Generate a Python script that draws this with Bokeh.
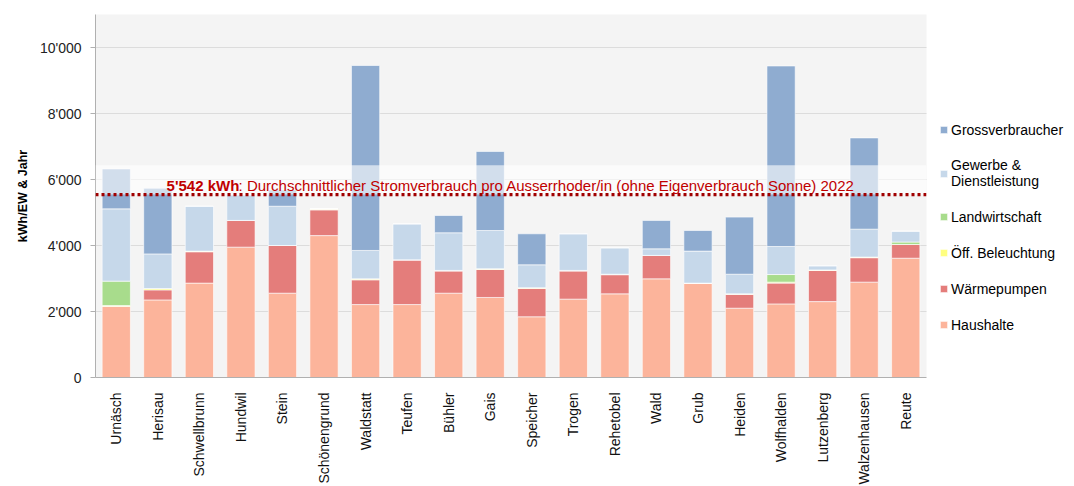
import math
from bokeh.plotting import figure
from bokeh.models import (ColumnDataSource, Range1d, FixedTicker, BoxAnnotation,
                          Span, Label, Legend, LegendItem)
from bokeh.embed import file_html
from bokeh.resources import INLINE

towns = ["Urnäsch", "Herisau", "Schwellbrunn", "Hundwil", "Stein", "Schönengrund",
         "Waldstatt", "Teufen", "Bühler", "Gais", "Speicher", "Trogen", "Rehetobel",
         "Wald", "Grub", "Heiden", "Wolfhalden", "Lutzenberg", "Walzenhausen", "Reute"]

haushalte = [2160, 2350, 2860, 3950, 2555, 4300, 2210, 2210, 2555, 2425,
             1840, 2375, 2535, 2990, 2860, 2100, 2230, 2300, 2890, 3615]
waermepumpen = [0, 305, 950, 810, 1445, 780, 750, 1355, 670, 850,
                860, 850, 580, 710, 0, 420, 630, 945, 740, 415]
beleuchtung = [20, 40, 20, 0, 0, 30, 30, 0, 20, 20,
               20, 20, 15, 0, 0, 15, 30, 15, 20, 0]
landwirtschaft = [740, 0, 0, 0, 0, 0, 0, 0, 0, 0,
                  0, 0, 0, 0, 0, 0, 230, 0, 0, 75]
gewerbe = [2190, 1050, 1360, 775, 1190, 0, 860, 1090, 1140, 1160,
           695, 1110, 800, 200, 970, 595, 850, 125, 845, 330]
gross = [1210, 1990, 0, 0, 495, 0, 5605, 0, 525, 2395,
         940, 0, 0, 860, 625, 1730, 5470, 0, 2765, 0]

series_keys = ["haushalte", "waermepumpen", "beleuchtung", "landwirtschaft", "gewerbe", "gross"]
series_names = ["Haushalte", "Wärmepumpen", "Öff. Beleuchtung", "Landwirtschaft",
                "Gewerbe &\nDienstleistung", "Grossverbraucher"]
colors = ["#fcb49b", "#e47d7b", "#ffff80", "#a8dc8c", "#c6d8ea", "#8facd0"]

average_value = 5542
average_bold = "5'542 kWh"
average_text = ": Durchschnittlicher Stromverbrauch pro Ausserrhoder/in (ohne Eigenverbrauch Sonne) 2022"

ytick_vals = [0, 2000, 4000, 6000, 8000, 10000]
ytick_labels = {v: f"{v:,}".replace(",", "'") for v in ytick_vals}

src = ColumnDataSource(dict(town=towns, haushalte=haushalte, waermepumpen=waermepumpen,
                            beleuchtung=beleuchtung, landwirtschaft=landwirtschaft,
                            gewerbe=gewerbe, gross=gross))

FONT = "Liberation Sans"

p = figure(x_range=towns, y_range=Range1d(0, 11000),
           frame_width=831, frame_height=363,
           min_border_left=95, min_border_top=14, min_border_right=140, min_border_bottom=100,
           output_backend="svg", toolbar_location=None,
           background_fill_color="#f4f4f4", border_fill_color="white",
           outline_line_color=None)

renderers = p.vbar_stack(series_keys, x="town", width=0.68, color=colors, source=src,
                         line_color="white", line_alpha=0.6, line_width=1)

# translucent label box and average line
box = BoxAnnotation(bottom=average_value, top=6430, fill_color="white", fill_alpha=0.6,
                    line_color=None)
p.add_layout(box)
span = Span(location=average_value, dimension="width", line_color="#a00000",
            line_width=3.3, line_dash="3 3")
p.add_layout(span)
lbl1 = Label(x=1.71, y=5818, text=average_bold, text_font=FONT, text_font_size="15px",
             text_font_style="bold", text_color="#c00000", text_baseline="alphabetic")
lbl2 = Label(x=1.71, y=5818, x_offset=72, text=average_text, text_font=FONT,
             text_font_size="15px", text_color="#c00000", text_baseline="alphabetic")
p.add_layout(lbl1)
p.add_layout(lbl2)

# axes
p.xgrid.grid_line_color = None
p.ygrid.ticker = FixedTicker(ticks=ytick_vals)
p.ygrid.grid_line_color = "#c4c4c4"
p.ygrid.grid_line_dash = "1 1"

p.yaxis.ticker = FixedTicker(ticks=ytick_vals)
p.yaxis.major_label_overrides = ytick_labels
p.yaxis.axis_label = "kWh/EW & Jahr"
p.yaxis.axis_label_text_font = FONT
p.yaxis.axis_label_text_font_size = "12.5px"
p.yaxis.axis_label_text_font_style = "bold"
p.yaxis.axis_label_text_color = "#000000"
p.yaxis.axis_label_standoff = 7
p.yaxis.major_label_text_font = FONT
p.yaxis.major_label_text_font_size = "14px"
p.yaxis.major_label_text_color = "#222222"
p.yaxis.major_label_standoff = 9
p.yaxis.axis_line_color = "#b0b0b0"
p.yaxis.major_tick_line_color = "#b0b0b0"
p.yaxis.major_tick_out = 5
p.yaxis.major_tick_in = 0
p.yaxis.minor_tick_line_color = None

p.xaxis.major_label_orientation = math.pi / 2
p.xaxis.major_label_text_font = FONT
p.xaxis.major_label_text_font_size = "14px"
p.xaxis.major_label_text_color = "#111111"
p.xaxis.major_label_standoff = 9
p.xaxis.major_tick_line_color = None
p.xaxis.axis_line_color = "#b0b0b0"

items = [LegendItem(label=name, renderers=[r]) for name, r in zip(series_names, renderers)]
items = items[::-1]
legend = Legend(items=items, location=(13, 44), padding=0, margin=0, spacing=19,
                label_height=17, glyph_height=9, glyph_width=9, label_standoff=3,
                label_text_font=FONT, label_text_font_size="14px",
                label_text_color="#000000",
                background_fill_alpha=0, border_line_color=None)
p.add_layout(legend, "right")

open("out.html", "w").write(file_html(p, INLINE))
